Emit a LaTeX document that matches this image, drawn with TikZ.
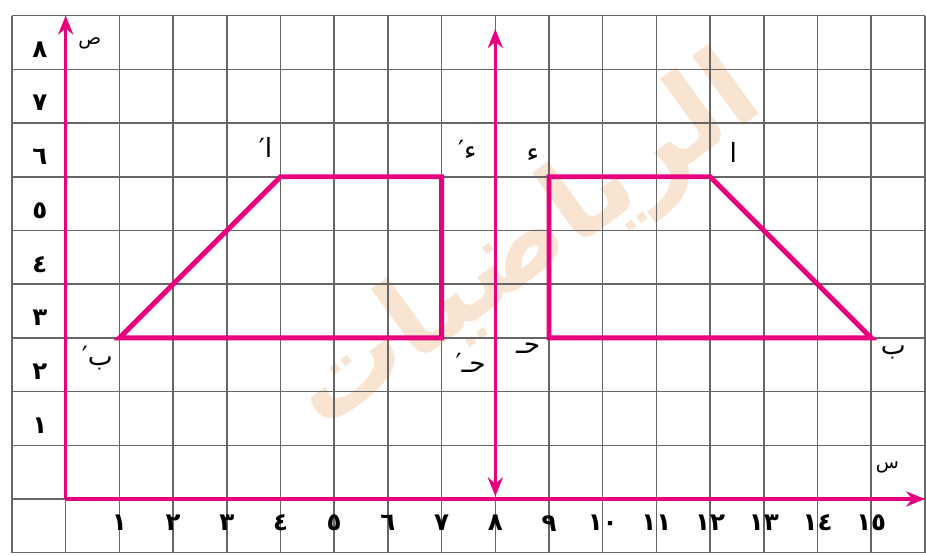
\documentclass[tikz,border=0pt]{standalone}
\usepackage{fontspec}
\usepackage{tikz}
\usetikzlibrary{arrows.meta}
\newfontfamily\arfont[Script=Arabic]{DejaVu Sans}
\definecolor{pinkline}{RGB}{230,0,126}
\definecolor{watermark}{RGB}{249,228,210}
\newcommand{\primed}[1]{\hbox{′}\hbox{#1}}

\begin{document}
\begin{tikzpicture}[>={Stealth[length=10pt,width=8pt]},
    gridline/.style={black!60, line width=0.8pt},
    axis/.style={pinkline, line width=1.6pt},
    trap/.style={pinkline, line width=2.6pt},
    num/.style={font=\arfont\bfseries\fontsize{13}{13}\selectfont, inner sep=0pt},
    vlabel/.style={font=\arfont\fontsize{14}{14}\selectfont, inner sep=0pt},
    axlabel/.style={font=\arfont\fontsize{10}{10}\selectfont, inner sep=0pt}]

    \useasboundingbox (-1.2235,-1.061) rectangle (16.02,9.292);

    % Watermark
    \node[rotate=36, text=watermark] (wm) at (8.6,4.7) {\arfont\bfseries\fontsize{60}{60}\selectfont الرياضيات};

    % Grid
    \draw[gridline, step=1] (-1,-1) grid (16,9);

    % Axes
    \coordinate (O) at (0,0);
    \coordinate (xend) at (16,0);
    \coordinate (yend) at (0,9);
    \draw[axis, ->] (O) -- (xend);
    \draw[axis, ->] (O) -- (yend);
    \node[axlabel] (ylab) at (0.45,8.48) {ص};
    \node[axlabel] (xlab) at (15.3,0.58) {س};

    % Axis numbers
    \foreach \k/\t in {1/١,2/٢,3/٣,4/٤,5/٥,6/٦,7/٧,8/٨,9/٩,10/١٠,11/١١,12/١٢,13/١٣,14/١٤,15/١٥} {
        \node[num] (x\k) at (\k,-0.45) {\t};
    }
    \foreach \k/\t in {1/١,2/٢,3/٣,4/٤,5/٥,6/٦,7/٧,8/٨} {
        \node[num] (y\k) at (-0.48,\k+0.37) {\t};
    }

    % Mirror line
    \coordinate (m1) at (8,0.05);
    \coordinate (m2) at (8,8.75);
    \draw[axis, <->] (m1) -- (m2);

    % Original shape
    \coordinate (A) at (12,6);
    \coordinate (B) at (15,3);
    \coordinate (C) at (9,3);
    \coordinate (D) at (9,6);
    \draw[trap] (A) -- (B) -- (C) -- (D) -- cycle;

    % Image
    \coordinate (A1) at (4,6);
    \coordinate (B1) at (1,3);
    \coordinate (C1) at (7,3);
    \coordinate (D1) at (7,6);
    \draw[trap] (A1) -- (B1) -- (C1) -- (D1) -- cycle;

    % Vertex labels
    \node[vlabel] (lA) at (12.43,6.45) {ا};
    \node[vlabel] (lB) at (15.41,2.72) {ب};
    \node[vlabel] (lC) at (8.61,2.81) {حـ};
    \node[vlabel] (lD) at (8.70,6.41) {ء};
    \node[vlabel] (lA1) at (3.72,6.54) {\primed{ا}};
    \node[vlabel] (lB1) at (0.59,2.63) {\primed{ب}};
    \node[vlabel] (lC1) at (7.54,2.53) {\primed{حـ}};
    \node[vlabel] (lD1) at (7.48,6.50) {\primed{ء}};

\end{tikzpicture}
\end{document}
